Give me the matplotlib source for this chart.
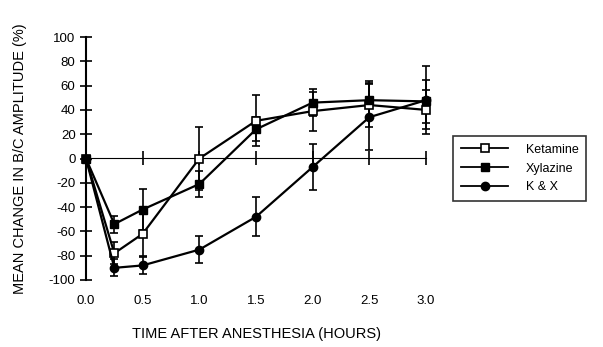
import matplotlib
matplotlib.use("Agg")
import matplotlib.pyplot as plt
from matplotlib.lines import Line2D

plt.rcParams['font.family'] = ['Liberation Sans', 'DejaVu Sans']

hours = [0.0, 0.25, 0.5, 1.0, 1.5, 2.0, 2.5, 3.0]
ketamine = [0, -78, -62, 0, 31, 39, 44, 40]
ketamine_err = [0, 9, 18, 26, 21, 16, 18, 16]
xylazine = [0, -54, -42, -21, 24, 46, 48, 47]
xylazine_err = [0, 7, 17, 11, 10, 11, 16, 18]
kx = [0, -90, -88, -75, -48, -7, 34, 48]
kx_err = [0, 7, 7, 11, 16, 19, 27, 28]

series_names = ["Ketamine", "Xylazine", "K & X"]
x_ticks = [0.0, 0.5, 1.0, 1.5, 2.0, 2.5, 3.0]
x_ticklabels = ["0.0", "0.5", "1.0", "1.5", "2.0", "2.5", "3.0"]
y_ticks = [-100, -80, -60, -40, -20, 0, 20, 40, 60, 80, 100]

fig = plt.figure(figsize=(6.03, 3.47), dpi=100)
ax = fig.add_axes([86/603, 1-280/347, 340/603, 243/347])
ax.set_xlim(0, 3)
ax.set_ylim(-100, 100)

styles = [
    dict(marker='s', mfc='white', mec='black', ms=5.5, mew=1.2),
    dict(marker='s', mfc='black', mec='black', ms=5.5),
    dict(marker='o', mfc='black', mec='black', ms=6),
]
data = [(ketamine, ketamine_err), (xylazine, xylazine_err), (kx, kx_err)]
handles = []
for (vals, errs), st, name in zip(data, styles, series_names):
    ax.errorbar(hours, vals, yerr=errs, color='black', lw=1.6, capsize=3,
                elinewidth=1.2, capthick=1.2, clip_on=False,
                zorder=3, **st)
    handles.append(Line2D([], [], color='black', lw=1.3, label=name, **st))

for s in ['top', 'right', 'bottom']:
    ax.spines[s].set_visible(False)
ax.spines['left'].set_linewidth(1.5)
ax.set_yticks(y_ticks)
ax.set_yticklabels([str(v) for v in y_ticks])
ax.tick_params(axis='y', direction='inout', length=9, width=1.2, labelsize=9.5, pad=3)

ax.set_xticks(x_ticks)
ax.set_xticklabels(x_ticklabels)
ax.tick_params(axis='x', length=0, pad=11, labelsize=9.5)

sec = ax.secondary_xaxis(0.5)
sec.set_xticks(x_ticks)
sec.tick_params(axis='x', direction='inout', length=10, width=1.2, labelbottom=False)
sec.spines['bottom'].set_linewidth(1.5)
sec.set_xticklabels([])

ax.set_xlabel("TIME AFTER ANESTHESIA (HOURS)", fontsize=10.5, labelpad=14)
ax.set_ylabel("MEAN CHANGE IN B/C AMPLITUDE (%)", fontsize=10.5, labelpad=16)

leg = ax.legend(handles=handles, loc='upper left', bbox_to_anchor=(447/603, 1-130/347),
                bbox_transform=fig.transFigure, frameon=True, fancybox=False,
                edgecolor='black', fontsize=9, handlelength=3.8,
                borderpad=0.6, labelspacing=0.55, handletextpad=1.4)
leg.get_frame().set_linewidth(1.2)

fig.savefig("out.png", dpi=100)
